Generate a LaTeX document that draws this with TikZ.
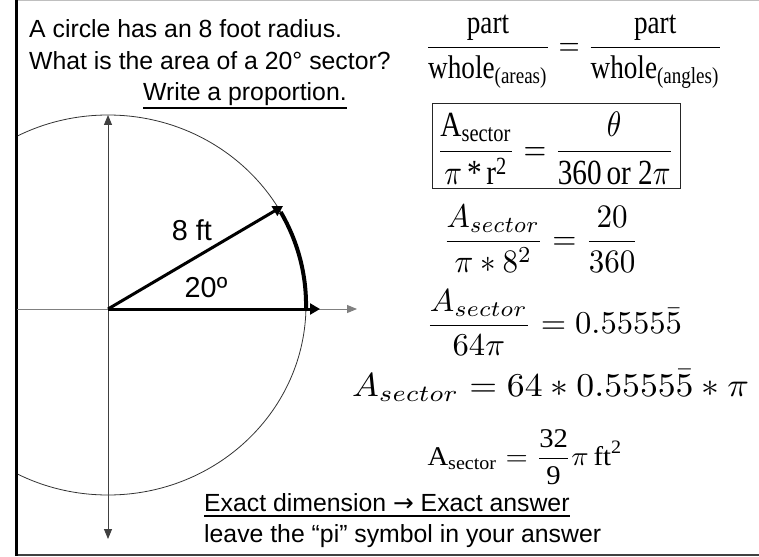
\documentclass[tikz,border=0pt]{standalone}
\usepackage{fontspec}
\usepackage{amsmath}
\usepackage{graphicx}
\setmainfont{Liberation Sans}
\newfontfamily\tnr{Liberation Serif}
\newfontfamily\dvs{DejaVu Sans}
\usetikzlibrary{arrows.meta}
\begin{document}
\begin{tikzpicture}[x=1pt,y=-1pt,
  hdr/.style={anchor=base west, inner sep=0pt, font=\fontsize{24.8}{30}\selectfont},
  lbl/.style={anchor=base, inner sep=0pt, font=\fontsize{28.8}{34}\selectfont},
  eqn/.style={inner sep=0pt},
  tip/.style={-{Triangle[length=10pt,width=8pt]}},
  rad/.style={line width=3pt, -{Triangle[length=10pt,width=11pt]}},
  uline/.style={line width=1.3pt},
]
\fill[white] (0,0) rectangle (759,556);
\useasboundingbox (0,0) rectangle (759,556);

% frame
\draw[line width=1pt, black!25] (16,0.5) -- (759,0.5);
\draw[line width=2pt, black!75] (16,555) -- (759,555);
\draw[line width=3pt] (16,0) -- (16,556);

% circle
\begin{scope}
\clip (17.5,0) rectangle (759,556);
\draw[line width=0.8pt, black!80] (108,305) ellipse [x radius=198, y radius=190];
\end{scope}

% axes
\coordinate (O) at (108,309);
\coordinate (xL) at (17,309);
\coordinate (xR) at (357,309);
\coordinate (yT) at (108,115);
\coordinate (yB) at (108,539);
\draw[line width=1pt, black!50, tip] (xL) -- (xR);
\draw[line width=1pt, black!75, {Triangle[length=10pt,width=8pt]}-{Triangle[length=10pt,width=8pt]}] (yB) -- (yT);

% radii and arc
\coordinate (P) at (320,309);
\coordinate (Q) at (283,206);
\draw[rad] (O) -- (P);
\draw[rad] (O) -- (Q);
\draw[line width=4pt] (306,309) arc[start angle=1.2, end angle=-29.3, x radius=198, y radius=190];

\node[lbl] (ft) at (192,240) {8 ft};
\node[lbl] (ang) at (206,297) {20º};

% header text
\node[hdr] (t1) at (29,38) {A circle has an 8 foot radius.};
\node[hdr] (t2) at (29,70) {What is the area of a 20° sector?};
\node[hdr] (t3) at (143,101) {Write a proportion.};
\draw[uline] ([yshift=-7pt]t3.base west) -- ([yshift=-7pt]t3.base east);

% equations
\node[eqn] (eq1) at (574,51.5) {\resizebox*{298pt}{73pt}{$\dfrac{\mbox{\tnr part}}{\mbox{\tnr whole}_{\mbox{\tnr\scriptsize (areas)}}}=\dfrac{\mbox{\tnr part}}{\mbox{\tnr whole}_{\mbox{\tnr\scriptsize (angles)}}}$}};

\draw[line width=1pt, black!85] (432,104) rectangle (680,188);
\node[eqn] (eq2) at (555.5,148.5) {\resizebox*{237pt}{73pt}{$\dfrac{\mbox{\tnr A}_{\mbox{\tnr\scriptsize sector}}}{\pi\,\mbox{\tnr *}\,\mbox{\tnr r}^{\mbox{\tnr\scriptsize 2}}}=\dfrac{\theta}{\mbox{\tnr 360\,or 2}\pi}$}};

\node[eqn] (eq3) at (541,238.5) {\resizebox*{196pt}{67pt}{$\dfrac{A_{sector}}{\pi\ast 8^2}=\dfrac{20}{360}$}};
\node[eqn] (eq4) at (554,322.5) {\resizebox*{256pt}{65pt}{$\dfrac{A_{sector}}{64\pi}=0.5555\bar{5}$}};
\node[eqn] (eq5) at (550.5,385.5) {\resizebox*{397pt}{31pt}{$A_{sector}=64\ast0.5555\bar{5}\ast\pi$}};
\node[eqn] (eq6) at (525,457) {\resizebox*{195pt}{55pt}{$\mbox{\tnr A}_{\mbox{\tnr\scriptsize sector}}=\dfrac{\mbox{\tnr 32}}{\mbox{\tnr 9}}\pi\,\mbox{\tnr ft}^{\mbox{\tnr\scriptsize 2}}$}};

% bottom text
\node[hdr] (b1) at (204,511) {Exact dimension {\dvs →} Exact answer};
\draw[uline] ([yshift=-5pt]b1.base west) -- ([yshift=-5pt]b1.base east);
\node[hdr] (b2) at (204,542) {leave the “pi” symbol in your answer};
\end{tikzpicture}
\end{document}
